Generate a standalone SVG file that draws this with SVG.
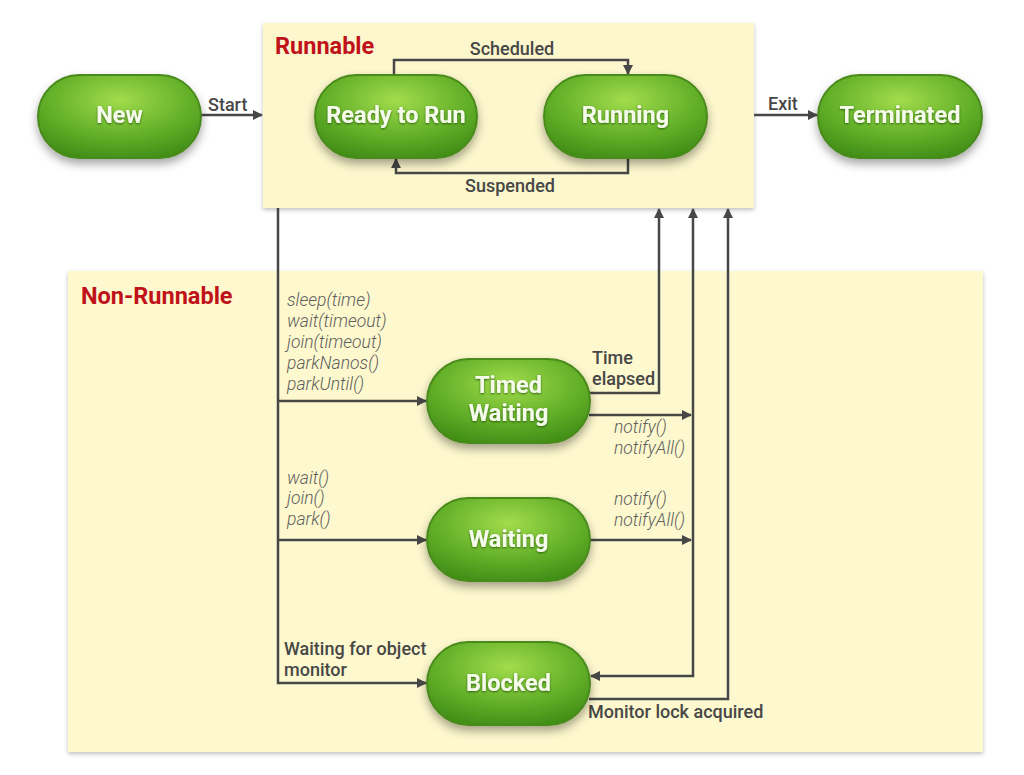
<svg xmlns="http://www.w3.org/2000/svg" width="1024" height="775" viewBox="0 0 1024 775">
<defs>
<radialGradient id="g" cx="0.5" cy="0.3" r="0.75">
<stop offset="0" stop-color="#a2dc4c"/>
<stop offset="0.55" stop-color="#66b22a"/>
<stop offset="1" stop-color="#3f8c16"/>
</radialGradient>
<filter id="sh" x="-30%" y="-30%" width="160%" height="180%">
<feDropShadow dx="0" dy="5" stdDeviation="5" flood-color="#000" flood-opacity="0.35"/>
</filter>
<filter id="bsh" x="-5%" y="-5%" width="110%" height="115%">
<feDropShadow dx="0" dy="2" stdDeviation="2" flood-color="#000" flood-opacity="0.25"/>
</filter>
<filter id="tsh" x="-10%" y="-30%" width="120%" height="160%">
<feDropShadow dx="0" dy="1" stdDeviation="0.8" flood-color="#1e4a05" flood-opacity="0.8"/>
</filter>
<marker id="ah" viewBox="0 0 10 10" refX="9" refY="5" markerWidth="4" markerHeight="4" orient="auto-start-reverse" markerUnits="strokeWidth">
<path d="M0,0 L10,5 L0,10 z" fill="#474747"/>
</marker>
<style>
.pill{fill:url(#g);stroke:#4a8a1c;stroke-width:2;filter:url(#sh)}
.pt{font-family:Roboto,"Liberation Sans",sans-serif;font-weight:bold;font-size:23.5px;fill:#f4fbe9;text-anchor:middle;filter:url(#tsh)}
.ln{fill:none;stroke:#474747;stroke-width:2.5}
.lb{font-family:Roboto,"Liberation Sans",sans-serif;font-size:18px;fill:#474747;font-weight:500}
.it{font-family:Roboto,"Liberation Sans",sans-serif;font-size:17.5px;fill:#5e5e5e;font-style:italic;font-weight:300}
.title{font-family:Roboto,"Liberation Sans",sans-serif;font-size:23.5px;font-weight:bold;fill:#c0121a}
</style>
</defs>
<rect width="1024" height="775" fill="#ffffff"/>
<g id="runnable-area">
<rect x="263" y="23" width="491" height="185" fill="#fcf7cc" filter="url(#bsh)"/>
<text class="title" x="275" y="54">Runnable</text>
</g>
<g id="nonrunnable-area">
<rect x="68" y="271" width="915" height="481" fill="#fdf8cd" filter="url(#bsh)"/>
<text class="title" x="81" y="304">Non-Runnable</text>
</g>
<g id="connectors">
<path class="ln" d="M201,115 H262" marker-end="url(#ah)"/>
<text class="lb" x="208" y="111">Start</text>
<path class="ln" d="M394,75 V60 H628 V74" marker-end="url(#ah)"/>
<text class="lb" x="512" y="55" text-anchor="middle">Scheduled</text>
<path class="ln" d="M628,158 V173 H396 V159" marker-end="url(#ah)"/>
<text class="lb" x="510" y="192" text-anchor="middle">Suspended</text>
<path class="ln" d="M754,115 H817" marker-end="url(#ah)"/>
<text class="lb" x="768" y="110">Exit</text>
<path class="ln" d="M278,208 V683 H426" marker-end="url(#ah)"/>
<path class="ln" d="M278,401 H426" marker-end="url(#ah)"/>
<path class="ln" d="M278,540 H426" marker-end="url(#ah)"/>
<path class="ln" d="M588,393 H659 V209" marker-end="url(#ah)"/>
<path class="ln" d="M589,415 H691" marker-end="url(#ah)"/>
<path class="ln" d="M589,540 H691" marker-end="url(#ah)"/>
<path class="ln" d="M693,209 V676 H591" marker-start="url(#ah)" marker-end="url(#ah)"/>
<path class="ln" d="M589,699 H728 V209" marker-end="url(#ah)"/>
<text class="it" x="287" y="306">sleep(time)</text>
<text class="it" x="287" y="327">wait(timeout)</text>
<text class="it" x="287" y="348">join(timeout)</text>
<text class="it" x="287" y="369">parkNanos()</text>
<text class="it" x="287" y="390">parkUntil()</text>
<text class="it" x="287" y="484">wait()</text>
<text class="it" x="287" y="504">join()</text>
<text class="it" x="287" y="525">park()</text>
<text class="lb" x="284" y="655">Waiting for object</text>
<text class="lb" x="284" y="676">monitor</text>
<text class="lb" x="592" y="364">Time</text>
<text class="lb" x="592" y="385">elapsed</text>
<text class="it" x="614" y="433">notify()</text>
<text class="it" x="614" y="454">notifyAll()</text>
<text class="it" x="614" y="505">notify()</text>
<text class="it" x="614" y="526">notifyAll()</text>
<text class="lb" x="588" y="718">Monitor lock acquired</text>
</g>
<g id="new"><rect class="pill" x="38" y="75" width="163" height="83" rx="41.5"/><text class="pt" x="119.5" y="123">New</text></g>
<g id="ready"><rect class="pill" x="315" y="75" width="162" height="83" rx="41.5"/><text class="pt" x="396" y="123">Ready to Run</text></g>
<g id="running"><rect class="pill" x="544" y="75" width="163" height="83" rx="41.5"/><text class="pt" x="625.5" y="123">Running</text></g>
<g id="terminated"><rect class="pill" x="818" y="75" width="164" height="83" rx="41.5"/><text class="pt" x="900" y="123">Terminated</text></g>
<g id="timed-waiting"><rect class="pill" x="427" y="359" width="163" height="84" rx="42"/><text class="pt" x="508.5" y="393">Timed</text><text class="pt" x="508.5" y="421">Waiting</text></g>
<g id="waiting"><rect class="pill" x="427" y="498" width="163" height="83" rx="41.5"/><text class="pt" x="508.5" y="547">Waiting</text></g>
<g id="blocked"><rect class="pill" x="427" y="642" width="163" height="83" rx="41.5"/><text class="pt" x="508.5" y="691">Blocked</text></g>
</svg>
